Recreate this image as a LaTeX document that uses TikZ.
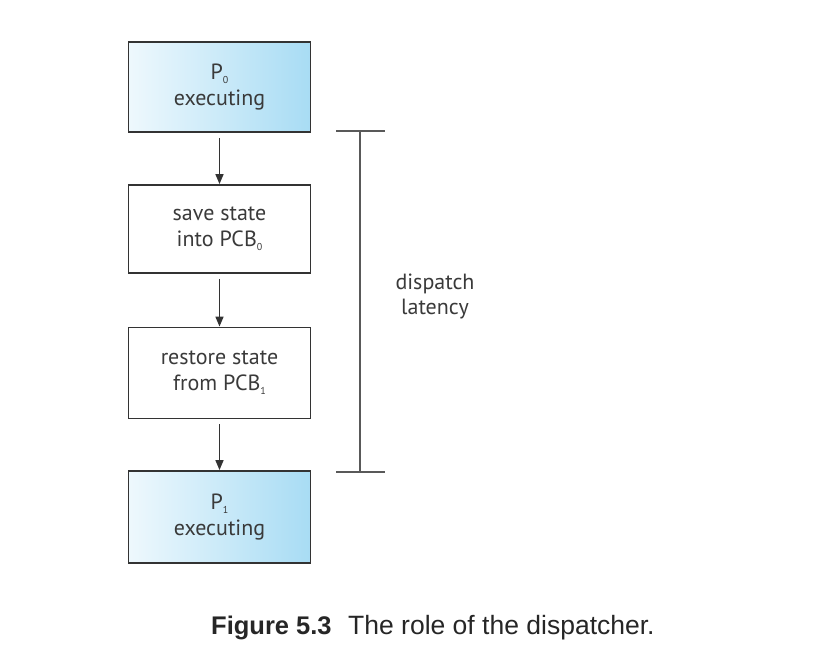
\documentclass[tikz,border=0pt]{standalone}
\usepackage{fontspec}
\setmainfont{PT Sans}
\newfontfamily\capfont{Liberation Sans}
\usetikzlibrary{arrows.meta}
\definecolor{gradL}{HTML}{EEF8FD}
\definecolor{gradR}{HTML}{A8DCF4}
\definecolor{edge}{HTML}{333333}
\definecolor{txt}{HTML}{3A3A3A}
\newcommand{\sbs}[1]{\raisebox{-4pt}{\fontsize{10}{10}\selectfont #1}}
\begin{document}
\begin{tikzpicture}[x=1pt,y=-1pt,
  box/.style={draw=edge,line width=1.8pt,minimum width=182pt,align=center,inner sep=0pt,
    font=\fontsize{22}{26}\selectfont,text=txt},
  procbox/.style={box,left color=gradL,right color=gradR},
  tdown/.style={execute at begin node={\rule{0pt}{#1}}},
  arr/.style={draw=edge,line width=1.6pt,-{Triangle[length=10pt,width=8pt]}},
  brk/.style={draw=black!65,line width=1.8pt}]
\useasboundingbox (0,0) rectangle (840,670);
\node[procbox,minimum height=90pt,tdown=19.5pt] (b1) at (219.5,87) {P\sbs{0}\\executing};
\node[box,minimum height=88pt,tdown=28pt] (b2) at (219.5,229) {save state\\into PCB\sbs{0}};
\node[box,minimum height=91pt,tdown=20pt] (b3) at (219.5,373) {restore state\\from PCB\sbs{1}};
\node[procbox,minimum height=92pt,tdown=19.5pt] (b4) at (219.5,517) {P\sbs{1}\\executing};
\draw[arr] ([yshift=-5pt]b1.south) -- (b2.north);
\draw[arr] ([yshift=-5pt]b2.south) -- (b3.north);
\draw[arr] ([yshift=-5pt]b3.south) -- (b4.north);
\coordinate (bt) at (360,131);
\coordinate (bb) at (360,472);
\coordinate (btl) at (336,131);
\coordinate (btr) at (385,131);
\coordinate (bbl) at (336,472);
\coordinate (bbr) at (385,472);
\draw[brk] (bt) -- (bb);
\draw[brk] (btl) -- (btr);
\draw[brk] (bbl) -- (bbr);
\node[align=center,inner sep=0pt,font=\fontsize{22}{25}\selectfont,text=txt] (lat) at (435,296) {dispatch\\latency};
\node[anchor=west,inner sep=0pt,font=\capfont\bfseries\fontsize{25.5}{28}\selectfont,text=black!85] (cap1) at (211,628) {Figure 5.3};
\node[anchor=west,inner sep=0pt,font=\capfont\fontsize{26.5}{28}\selectfont,text=black!85] (cap2) at (348,628) {The role of the dispatcher.};
\end{tikzpicture}
\end{document}
